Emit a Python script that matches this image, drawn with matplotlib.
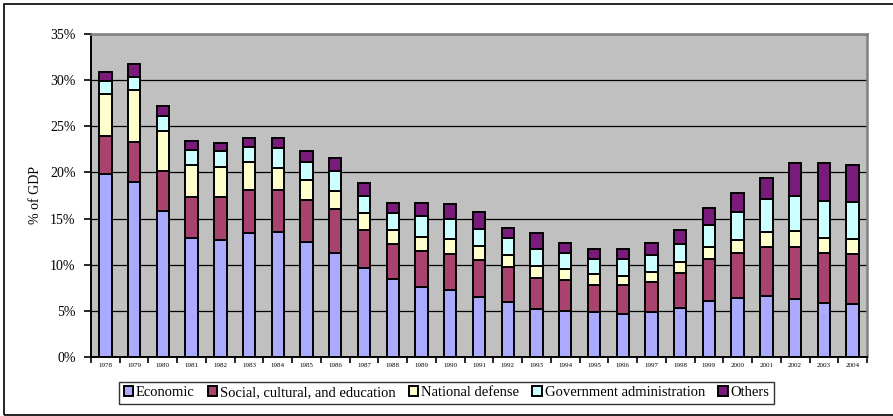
import matplotlib
matplotlib.use("Agg")
import matplotlib.pyplot as plt
import numpy as np
from matplotlib.patches import Rectangle
from matplotlib.ticker import FixedLocator, FuncFormatter

years = [str(y) for y in range(1978, 2005)]

# Cumulative tops of each layer (% of GDP)
economic_top = [19.8, 19.0, 15.8, 12.9, 12.7, 13.4, 13.5, 12.5, 11.3, 9.6,
                8.4, 7.55, 7.3, 6.5, 6.0, 5.2, 5.0, 4.85, 4.7, 4.85,
                5.3, 6.1, 6.35, 6.6, 6.3, 5.9, 5.75]
social_top = [23.9, 23.3, 20.2, 17.3, 17.3, 18.1, 18.1, 17.0, 16.0, 13.8,
              12.2, 11.5, 11.2, 10.5, 9.7, 8.6, 8.3, 7.85, 7.8, 8.15,
              9.05, 10.6, 11.3, 11.95, 11.95, 11.3, 11.15]
defense_top = [28.5, 28.9, 24.5, 20.8, 20.6, 21.1, 20.5, 19.2, 18.0, 15.6,
               13.8, 13.0, 12.8, 12.0, 11.1, 9.9, 9.5, 8.95, 8.8, 9.25,
               10.25, 11.9, 12.7, 13.5, 13.6, 12.9, 12.8]
govadmin_top = [29.9, 30.3, 26.1, 22.4, 22.3, 22.8, 22.6, 21.1, 20.2, 17.5,
                15.6, 15.3, 15.0, 13.9, 12.85, 11.7, 11.3, 10.6, 10.6, 11.1,
                12.2, 14.3, 15.75, 17.1, 17.45, 16.95, 16.8]
total = [30.9, 31.7, 27.2, 23.4, 23.2, 23.7, 23.7, 22.3, 21.6, 18.9,
         16.65, 16.65, 16.6, 15.7, 14.0, 13.4, 12.4, 11.65, 11.65, 12.4,
         13.8, 16.1, 17.8, 19.4, 21.0, 21.0, 20.8]

series_names = ["Economic", "Social, cultural, and education", "National defense",
                "Government administration", "Others"]
series_colors = ["#AAAAFF", "#A8436F", "#FFFFCC", "#CCFFFF", "#7A1A7A"]

tops = np.array([economic_top, social_top, defense_top, govadmin_top, total])
bottoms = np.vstack([np.zeros(len(years)), tops[:-1]])
heights = tops - bottoms

plt.rcParams["font.family"] = ["Liberation Serif", "DejaVu Serif"]

fig = plt.figure(figsize=(8.93, 4.16), dpi=100)
ax = fig.add_axes([91 / 893, 59 / 416, 776 / 893, 323 / 416])
ax.set_facecolor("#C0C0C0")

x = np.arange(len(years))
for name, color, h, b in zip(series_names, series_colors, heights, bottoms):
    ax.bar(x, h, bottom=b, width=0.43, color=color, edgecolor="black",
           linewidth=1.4, label=name, zorder=3)

ax.set_xlim(-0.5, len(years) - 0.5)
ax.set_ylim(0, 35)
ax.yaxis.set_major_locator(FixedLocator(np.arange(0, 36, 5)))
ax.yaxis.set_major_formatter(FuncFormatter(lambda v, p: f"{int(v)}%"))
ax.grid(axis="y", color="black", linewidth=0.9, zorder=1)
ax.set_axisbelow(True)

ax.set_xticks(x)
ax.set_xticklabels(years, fontsize=5)
ax.tick_params(axis="x", which="major", length=0, pad=4)
ax.set_xticks(np.arange(-0.5, len(years), 1.0), minor=True)
ax.tick_params(axis="x", which="minor", length=4, width=1.2, direction="out")
ax.tick_params(axis="y", length=5, width=1.2, direction="out", labelsize=10, pad=6)

ax.set_ylabel("% of GDP", fontsize=10, labelpad=6)

for side in ("left", "bottom"):
    ax.spines[side].set_color("black")
    ax.spines[side].set_linewidth(1.4)
for side in ("top", "right"):
    ax.spines[side].set_color("#808080")
    ax.spines[side].set_linewidth(1.8)

leg = fig.legend(loc="upper center", bbox_to_anchor=(0.5, (416 - 382) / 416), ncol=5,
                 fontsize=10.5, frameon=True, fancybox=False, edgecolor="black",
                 handlelength=0.65, handleheight=0.65, handletextpad=0.2,
                 columnspacing=0.9, borderpad=0.3, borderaxespad=0)
leg.get_frame().set_linewidth(1.0)

# Outer frame around the whole chart (open on the right)
fig.patches.append(Rectangle((4 / 893, 1.5 / 416), 900 / 893, 410.5 / 416,
                             transform=fig.transFigure, fill=False,
                             edgecolor="black", linewidth=1.2))

fig.savefig("out.png", dpi=100)
